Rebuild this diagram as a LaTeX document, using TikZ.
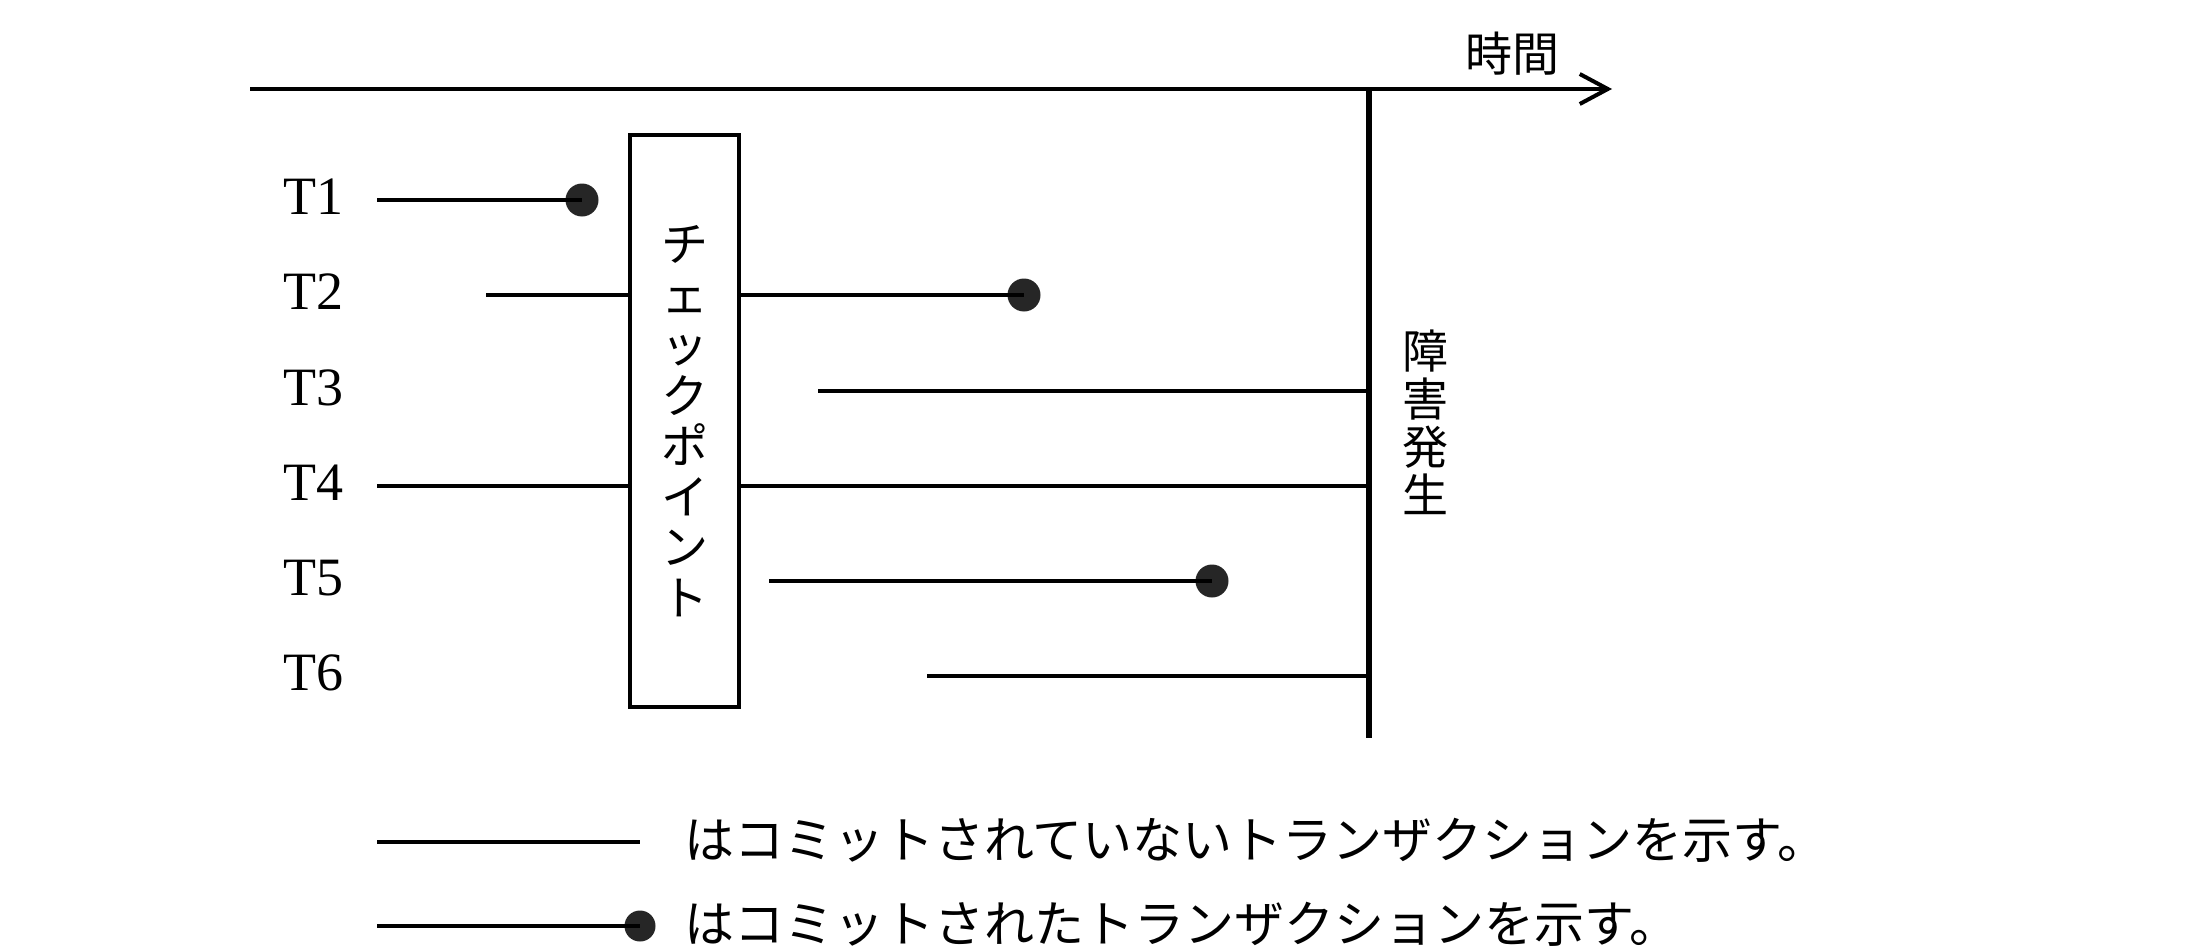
\documentclass[tikz,border=0pt]{standalone}
\usepackage{fontspec}
\setmainfont{Liberation Serif}
\newfontfamily\jp{Noto Sans CJK JP}
\usetikzlibrary{arrows.meta}
\begin{document}
\begin{tikzpicture}[x=1pt,y=-1pt,
  txline/.style={line width=3.5pt},
  axisline/.style={line width=4pt,-{Straight Barb[length=28pt,width=30pt]}},
  failline/.style={line width=6.5pt},
  commitdot/.style={circle,fill=black!85,draw=none,minimum size=33pt,inner sep=0pt},
  tlabel/.style={font=\fontsize{54}{60}\selectfont,inner sep=0pt},
  jtext/.style={font=\jp\fontsize{50}{50}\selectfont,inner sep=0pt},
  cpbox/.style={draw,line width=3.5pt,minimum width=109pt,minimum height=572pt,align=center,inner sep=0pt,font=\jp\fontsize{47}{50.5}\selectfont},
  ]
\useasboundingbox[fill=white] (0,0) rectangle (2200,950);

% time axis
\coordinate (ax0) at (250,89);
\coordinate (ax1) at (1612,89);
\draw[axisline] (ax0) -- (ax1);
\node[jtext,font=\jp\fontsize{47}{50}\selectfont] (time) at (1512,54) {時間};

% failure line
\coordinate (ftop) at (1369,89);
\coordinate (fbot) at (1369,738);
\draw[failline] (ftop) -- (fbot);
\node[jtext,align=center,font=\jp\fontsize{46}{48}\selectfont] (fail) at (1425,422) {障\\害\\発\\生};

% checkpoint box
\node[cpbox] (cp) at (684.5,421) {チ\\ェ\\ッ\\ク\\ポ\\イ\\ン\\ト};

% labels
\node[tlabel] (l1) at (313,197) {T1};
\node[tlabel] (l2) at (313,292) {T2};
\node[tlabel] (l3) at (313,388) {T3};
\node[tlabel] (l4) at (313,483) {T4};
\node[tlabel] (l5) at (313,578) {T5};
\node[tlabel] (l6) at (313,673) {T6};

% T1
\coordinate (s1) at (377,200);
\node[commitdot] (d1) at (582,200) {};
\draw[txline] (s1) -- (d1.center);
% T2
\coordinate (s2) at (486,295);
\node[commitdot] (d2) at (1024,295) {};
\draw[txline] (s2) -- (s2 -| cp.west);
\draw[txline] (s2 -| cp.east) -- (d2.center);
% T3
\coordinate (s3) at (818,391);
\draw[txline] (s3) -- (s3 -| ftop);
% T4
\coordinate (s4) at (377,486);
\draw[txline] (s4) -- (s4 -| cp.west);
\draw[txline] (s4 -| cp.east) -- (s4 -| ftop);
% T5
\coordinate (s5) at (769,581);
\node[commitdot] (d5) at (1212,581) {};
\draw[txline] (s5) -- (d5.center);
% T6
\coordinate (s6) at (927,676);
\draw[txline] (s6) -- (s6 -| ftop);

% legend
\coordinate (g1) at (377,842);
\coordinate (g1e) at (640,842);
\draw[txline] (g1) -- (g1e);
\node[jtext,anchor=west] (lt1) at (684,840) {はコミットされていないトランザクションを示す。};
\coordinate (g2) at (377,926);
\node[commitdot,minimum size=31pt] (gd2) at (640,926) {};
\draw[txline] (g2) -- (gd2.center);
\node[jtext,anchor=west] (lt2) at (684,924) {はコミットされたトランザクションを示す。};
\end{tikzpicture}
\end{document}
